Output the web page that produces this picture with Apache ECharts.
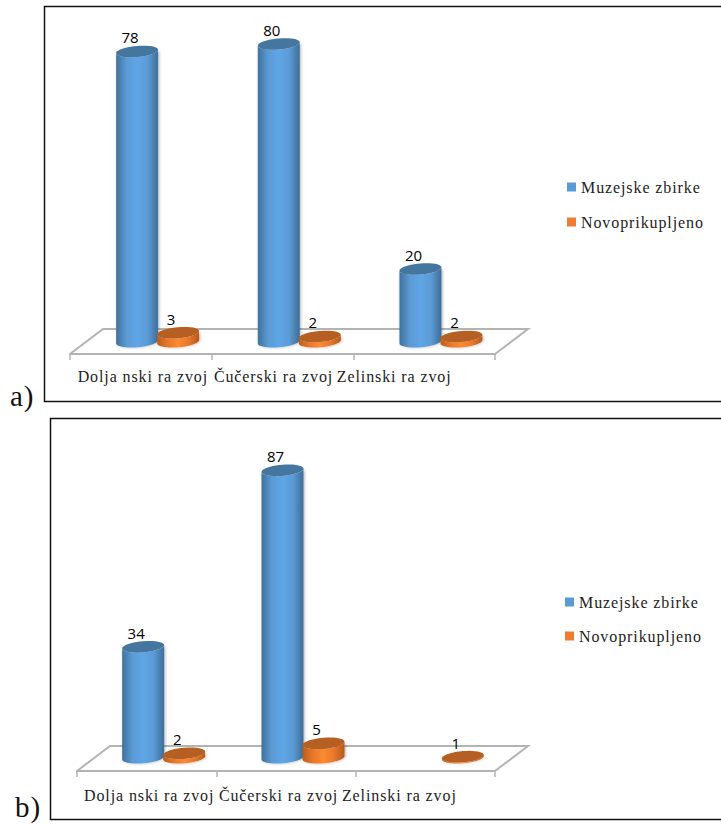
<!DOCTYPE html>
<html>
<head>
<meta charset="utf-8">
<style>
html,body{margin:0;padding:0;background:#fff}
#c{width:721px;height:825px}
text[style*="Liberation Serif"]{letter-spacing:0.9px}
</style>
<script src="https://cdn.jsdelivr.net/npm/echarts@6/dist/echarts.min.js"></script>
</head>
<body>
<div id="c"></div>
<script>
const categories = ['Dolja nski ra zvoj', 'Čučerski ra zvoj', 'Zelinski ra zvoj'];
const seriesNames = ['Muzejske zbirke', 'Novoprikupljeno'];
const muzejskeA = [78, 80, 20];
const novoA = [3, 2, 2];
const muzejskeB = [34, 87, null];
const novoB = [2, 5, 1];

const SERIF = '"Liberation Serif","Times New Roman",serif';
const BLUE = {side:['#41719c','#5b9bd5','#5fa5e6','#5b9bd5','#3f6d97'], top:'#44769f', base:'#5b9bd5'};
const ORANGE = {side:['#b85f1e','#e8772c','#fb8a30','#e8772c','#b55a1b'], top:'#b65f22', base:'#ed7d31'};

function ell(cx, cy, rx, ry, k, from, to) {
  const pts = [];
  for (let i = 0; i <= 40; i++) {
    const t = from + (to - from) * i / 40;
    pts.push([cx + rx * Math.cos(t), cy + ry * Math.sin(t) - k * rx * Math.cos(t)]);
  }
  return pts;
}
function cylinder(pal, dx, baseLift) {
  return function (params, api) {
    const v = api.value(1);
    if (v == null || isNaN(v)) return null;
    const p = api.coord([api.value(0), v]);
    const z = api.coord([api.value(0), 0]);
    const cx = p[0] + dx, topY = p[1], baseY = z[1] - baseLift;
    const rx = 21, ry = 5.6, k = 0.08;
    const grad = {type:'linear', x:0, y:0, x2:1, y2:0, colorStops:pal.side.map((c,i)=>({offset:i/(pal.side.length-1), color:c}))};
    const body = ell(cx, baseY, rx, ry, k, 0, Math.PI).concat(ell(cx, topY, rx, ry, k, Math.PI, 0));
    return {type:'group', children:[
      {type:'polygon', shape:{points:body}, style:{fill:grad, shadowBlur:3, shadowColor:'rgba(0,0,0,0.3)', shadowOffsetX:1}},
      {type:'polygon', shape:{points:ell(cx, topY, rx, ry, k, 0, Math.PI*2)}, style:{fill:pal.top}},
      {type:'text', style:{text:String(v), x:cx-7, y:topY-14, fill:'#000', textAlign:'center', textVerticalAlign:'middle', font:'15px "Open Sans",sans-serif'}}
    ]};
  };
}
function floor(params, api) {
  const c = params.coordSys;
  const x0 = c.x, x1 = c.x + c.width, y = c.y + c.height, dx = 33, dy = -25;
  return {type:'polyline', shape:{points:[[x0,y],[x0+dx,y+dy],[x1+dx,y+dy],[x1,y]]},
    style:{fill:null, stroke:'#b3b3b3', lineWidth:2}, silent:true};
}
function xAxis(gridIndex, pads) {
  const rich = {};
  pads.forEach((p,i)=>{rich['c'+i] = {padding:p, fontFamily:SERIF, fontSize:16, color:'#222'};});
  return {type:'category', gridIndex, data:categories, position:'bottom',
    axisLine:{onZero:false, lineStyle:{color:'#b3b3b3', width:2}},
    axisTick:{show:true, length:6, alignWithLabel:false, lineStyle:{color:'#b3b3b3', width:1.5}},
    axisLabel:{interval:0, hideOverlap:false, margin:gridIndex?16:14, fontFamily:SERIF, fontSize:16, color:'#222',
      formatter:(v,i)=>`{c${i}|${v}}`, rich}};
}
function setFor(gridIndex, blue, orange, baseLift, blueDx, orangeDx) {
  const mk = (name, arr, pal, dx) => ({type:'custom', name, xAxisIndex:gridIndex, yAxisIndex:gridIndex,
    itemStyle:{color:pal.base}, clip:false, encode:{x:0,y:1},
    data:arr.map((v,i)=>[i,v]), renderItem:cylinder(pal, dx, baseLift)});
  return [
    {type:'custom', xAxisIndex:gridIndex, yAxisIndex:gridIndex, silent:true, clip:false, data:[[0,0]], encode:{x:0,y:1}, renderItem:floor},
    mk(seriesNames[0], blue, BLUE, blueDx),
    mk(seriesNames[1], orange, ORANGE, orangeDx)
  ];
}
const legend = (left, top, gap) => ({orient:'vertical', padding:0, left, top, itemWidth:9, itemHeight:9, itemGap:gap, icon:'rect',
  data:seriesNames, selectedMode:false, textStyle:{fontFamily:SERIF, fontSize:16, color:'#222'}});

const chart = echarts.init(document.getElementById('c'), null, {renderer:'svg', width:721, height:825});
chart.setOption({
  animation:false,
  backgroundColor:'#fff',
  grid:[
    {left:70, width:425, top:7.5, height:346.5},
    {left:77, width:418, top:427, height:344}
  ],
  xAxis:[xAxis(0, [[0,0,0,4],[0,18,0,0],[0,60,0,0]]), xAxis(1, [[0,0,0,5],[0,15,0,0],[0,52,0,0]])],
  yAxis:[
    {type:'value', gridIndex:0, min:-2.67, max:89.73, show:false},
    {type:'value', gridIndex:1, min:-3.3, max:100, show:false}
  ],
  legend:[legend(567, 179, 19), legend(565, 594, 18)],
  series:[].concat(setFor(0, muzejskeA, novoA, 2.3, -3.7, 37.3), setFor(1, muzejskeB, novoB, 2.3, -3.5, 37.5)),
  graphic:[
    {type:'rect', silent:true, z:-1, shape:{x:44.5,y:6.5,width:700,height:395}, style:{fill:null, stroke:'#111', lineWidth:1.5}},
    {type:'rect', silent:true, z:-1, shape:{x:50.5,y:418.5,width:700,height:401}, style:{fill:null, stroke:'#111', lineWidth:1.5}},
    {type:'text', silent:true, style:{text:'a)', x:10, y:396, fill:'#111', font:'29px "Liberation Serif",serif', textVerticalAlign:'middle'}},
    {type:'text', silent:true, style:{text:'b)', x:15, y:807, fill:'#111', font:'29px "Liberation Serif",serif', textVerticalAlign:'middle'}}
  ]
});
</script>
</body>
</html>
